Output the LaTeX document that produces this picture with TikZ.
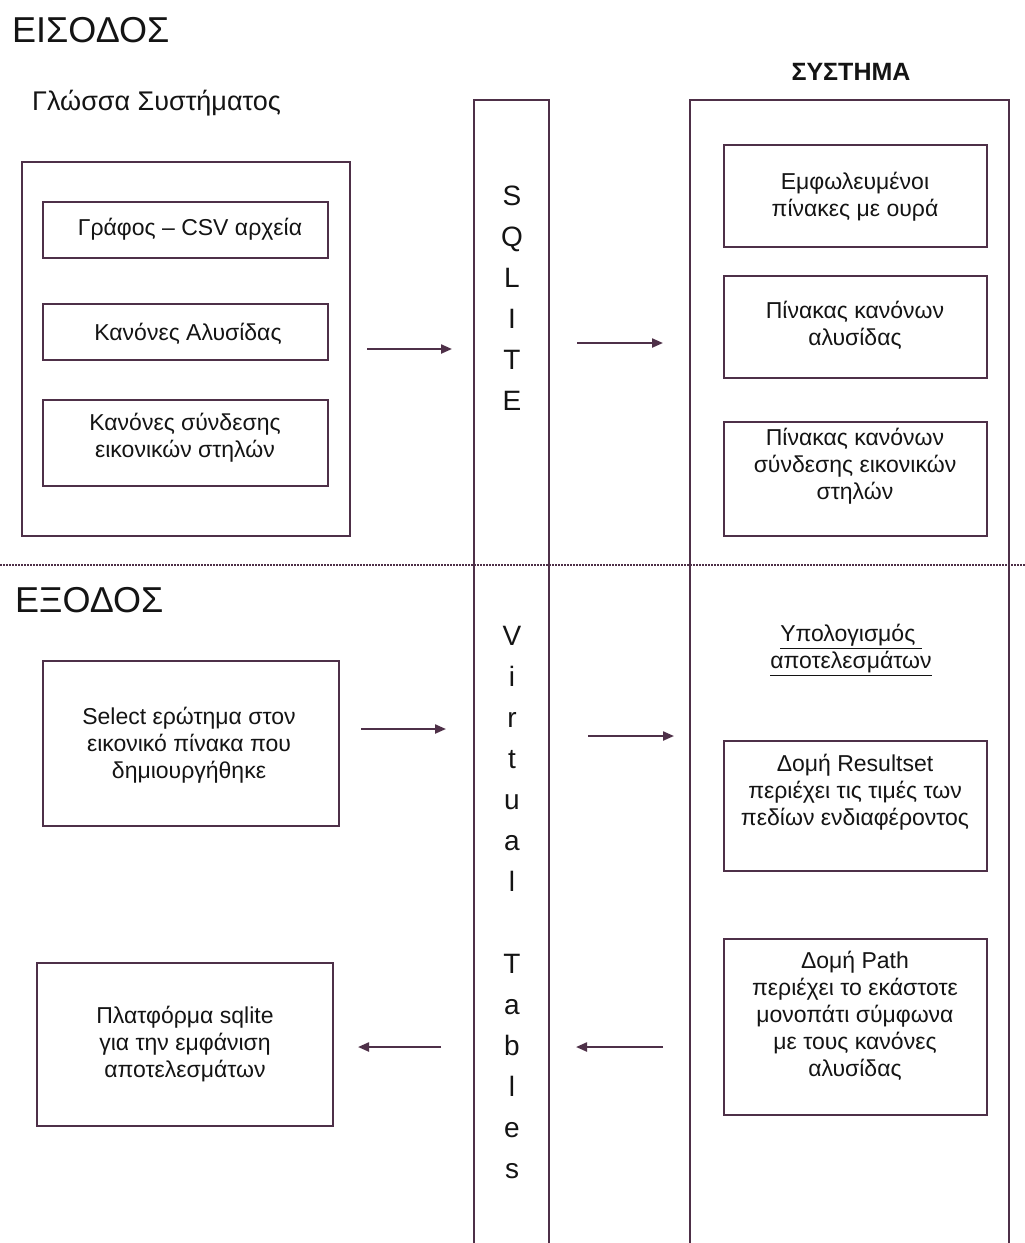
\documentclass[tikz,border=0pt]{standalone}
\usepackage{fontspec}
\setmainfont{Liberation Sans}
\usetikzlibrary{arrows.meta}
\definecolor{lc}{RGB}{78,48,72}
\definecolor{tc}{RGB}{20,20,20}
\begin{document}
\begin{tikzpicture}[x=1pt,y=-1pt,
  box/.style={draw=lc, line width=1.9pt, inner sep=0pt},
  txt/.style={inner sep=0pt, align=center, text=tc, font=\fontsize{23}{27}\selectfont},
  head/.style={inner sep=0pt, text=tc, font=\fontsize{36}{40}\selectfont},
  sub/.style={inner sep=0pt, text=tc, font=\fontsize{27}{30}\selectfont},
  col/.style={draw=lc, line width=1.9pt},
  stack/.style={inner sep=0pt, align=center, text=tc, font=\fontsize{28}{41}\selectfont},
  arr/.style={draw=lc, line width=2.2pt, -{Triangle[length=11pt,width=9pt]}},
  sep/.style={draw=lc, line width=1.5pt, dash pattern=on 1.5pt off 1.5pt}
]
\useasboundingbox (0,0) rectangle (1025,1243);
\fill[white] (0,0) rectangle (1025,1243);

% headings
\node[head, anchor=base west] (ein) at (12,42) {ΕΙΣΟΔΟΣ};
\node[sub, anchor=base west] (lang) at (32,110) {Γλώσσα Συστήματος};
\node[inner sep=0pt, text=tc, font=\fontsize{25}{28}\selectfont\bfseries, anchor=base] (sys) at (851,80) {ΣΥΣΤΗΜΑ};
\node[head, anchor=base west] (eks) at (15,612) {ΕΞΟΔΟΣ};

% separator
\coordinate (sl) at (0,565);
\coordinate (sr) at (1025,565);
\draw[sep] (sl) -- (sr);

% columns
\coordinate (q1) at (474,1250);
\coordinate (q2) at (474,100);
\coordinate (q3) at (549,100);
\coordinate (q4) at (549,1250);
\draw[col] (q1) -- (q2) -- (q3) -- (q4);
\coordinate (s1) at (690,1250);
\coordinate (s2) at (690,100);
\coordinate (s3) at (1009,100);
\coordinate (s4) at (1009,1250);
\draw[col] (s1) -- (s2) -- (s3) -- (s4);

\node[stack] (sqlite) at (512,298) {S\\Q\\L\\I\\T\\E};
\node[stack] (vt) at (512,902) {V\\i\\r\\t\\u\\a\\l\\\mbox{}\\T\\a\\b\\l\\e\\s};

% left input boxes
\node[box, minimum width=328pt, minimum height=374pt] (inL) at (186,349) {};
\node[box, minimum width=285pt, minimum height=56pt] (b1) at (185.5,230) {};
\node[box, minimum width=285pt, minimum height=56pt] (b2) at (185.5,332) {};
\node[box, minimum width=285pt, minimum height=86pt] (b3) at (185.5,443) {};
\node[txt] (t1) at (190,229) {Γράφος – CSV αρχεία};
\node[txt] (t2) at (188,334) {Κανόνες Αλυσίδας};
\node[txt] (t3) at (185,438) {Κανόνες σύνδεσης\\εικονικών στηλών};

% right system boxes
\node[box, minimum width=263pt, minimum height=102pt] (r1) at (855.5,196) {};
\node[box, minimum width=263pt, minimum height=102pt] (r2) at (855.5,327) {};
\node[box, minimum width=263pt, minimum height=114pt] (r3) at (855.5,479) {};
\node[box, minimum width=263pt, minimum height=130pt] (r4) at (855.5,806) {};
\node[box, minimum width=263pt, minimum height=176pt] (r5) at (855.5,1027) {};
\node[txt] (rt1) at (855,197) {Εμφωλευμένοι\\πίνακες με ουρά};
\node[txt] (rt2) at (855,325) {Πίνακας κανόνων\\αλυσίδας};
\node[txt] (rt3) at (855,466) {Πίνακας κανόνων\\σύνδεσης εικονικών\\στηλών};
\node[txt] (calc) at (851,650) {\underline{Υπολογισμός }\\\underline{αποτελεσμάτων}};
\node[txt] (rt4) at (855,792) {Δομή Resultset\\περιέχει τις τιμές των\\πεδίων ενδιαφέροντος};
\node[txt] (rt5) at (855,1016) {Δομή Path\\περιέχει το εκάστοτε\\μονοπάτι σύμφωνα\\με τους κανόνες\\αλυσίδας};

% left output boxes
\node[box, minimum width=296pt, minimum height=165pt] (sel) at (191,743.5) {};
\node[box, minimum width=296pt, minimum height=163pt] (plat) at (185,1044.5) {};
\node[txt] (selt) at (189,745) {Select ερώτημα στον\\εικονικό πίνακα που\\δημιουργήθηκε};
\node[txt] (platt) at (185,1044) {Πλατφόρμα sqlite\\για την εμφάνιση\\αποτελεσμάτων};

% arrows
\coordinate (a1s) at (367,349); \coordinate (a1e) at (452,349);
\coordinate (a2s) at (577,343); \coordinate (a2e) at (663,343);
\coordinate (a3s) at (361,729); \coordinate (a3e) at (446,729);
\coordinate (a4s) at (588,736); \coordinate (a4e) at (674,736);
\coordinate (a5s) at (441,1047); \coordinate (a5e) at (358,1047);
\coordinate (a6s) at (663,1047); \coordinate (a6e) at (576,1047);
\draw[arr] (a1s) -- (a1e);
\draw[arr] (a2s) -- (a2e);
\draw[arr] (a3s) -- (a3e);
\draw[arr] (a4s) -- (a4e);
\draw[arr] (a5s) -- (a5e);
\draw[arr] (a6s) -- (a6e);
\end{tikzpicture}
\end{document}
